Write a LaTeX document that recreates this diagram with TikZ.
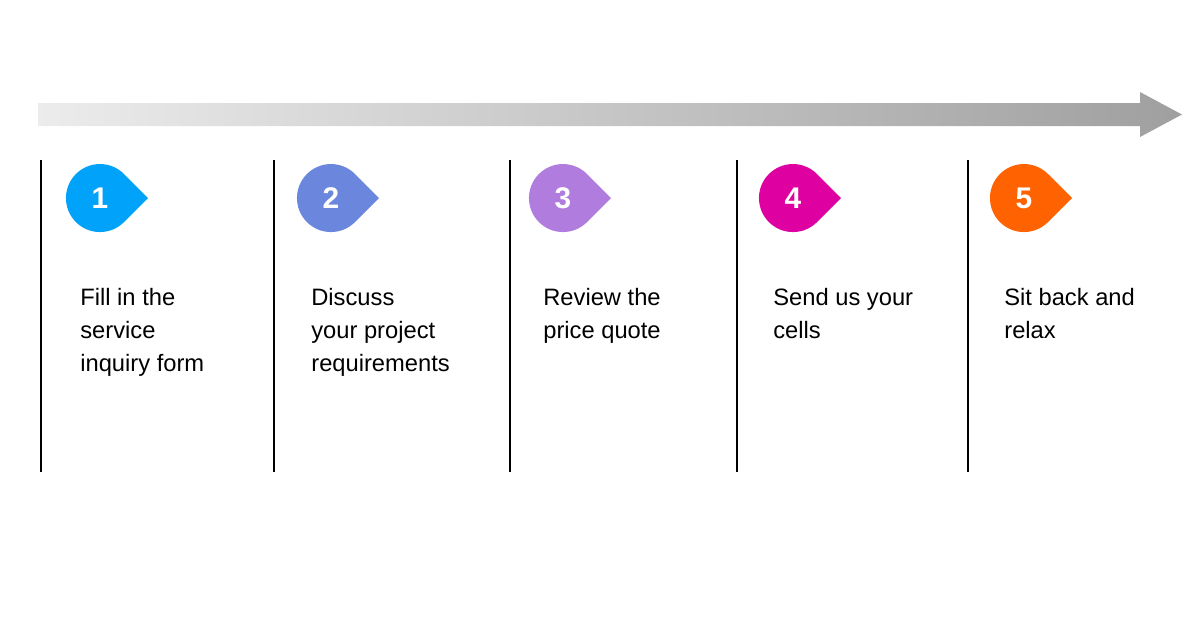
\documentclass[tikz,border=0pt]{standalone}
\usepackage{fontspec}
\setmainfont{Liberation Sans}
\usetikzlibrary{positioning}
\definecolor{stepA}{HTML}{00A2FA}
\definecolor{stepB}{HTML}{6A87DD}
\definecolor{stepC}{HTML}{B07CDD}
\definecolor{stepD}{HTML}{DE00A0}
\definecolor{stepE}{HTML}{FF6200}
\begin{document}
\begin{tikzpicture}[x=0.02cm,y=-0.02cm]
\tikzstyle{divider}=[draw, line width=1.3pt, black]
\tikzstyle{badge}=[text=white, font=\bfseries\fontsize{17}{17}\selectfont]
\tikzstyle{stepnote}=[anchor=north west, align=left, inner sep=0pt, font=\fontsize{13.5}{18.7}\selectfont]
\useasboundingbox (0,0) rectangle (1200,627);

% Timeline arrow
\shade[left color=gray!15, right color=gray!75] (38,103) -- (1140,103) -- (1140,92) -- (1182,114.5) -- (1140,137) -- (1140,126) -- (38,126) -- cycle;

% Steps
\foreach \n/\lx/\bx/\col/\txt in {1/41/100/stepA/{Fill in the\\service\\inquiry form},
  2/274/331/stepB/{Discuss\\your project\\requirements},
  3/510/563/stepC/{Review the\\price quote},
  4/737/793/stepD/{Send us your\\cells},
  5/968/1024/stepE/{Sit back and\\relax}} {
  \coordinate (top\n) at (\lx,160);
  \coordinate (bot\n) at (\lx,472);
  \draw[divider] (top\n) -- (bot\n);
  \fill[\col] (\bx+48,198) -- (\bx+24,174) arc[start angle=-45, end angle=-315, radius=34] -- cycle;
  \node[badge] (badge\n) at (\bx,198) {\n};
  \node[stepnote] (note\n) at (\bx-20,288) {\txt};
}
\end{tikzpicture}
\end{document}
